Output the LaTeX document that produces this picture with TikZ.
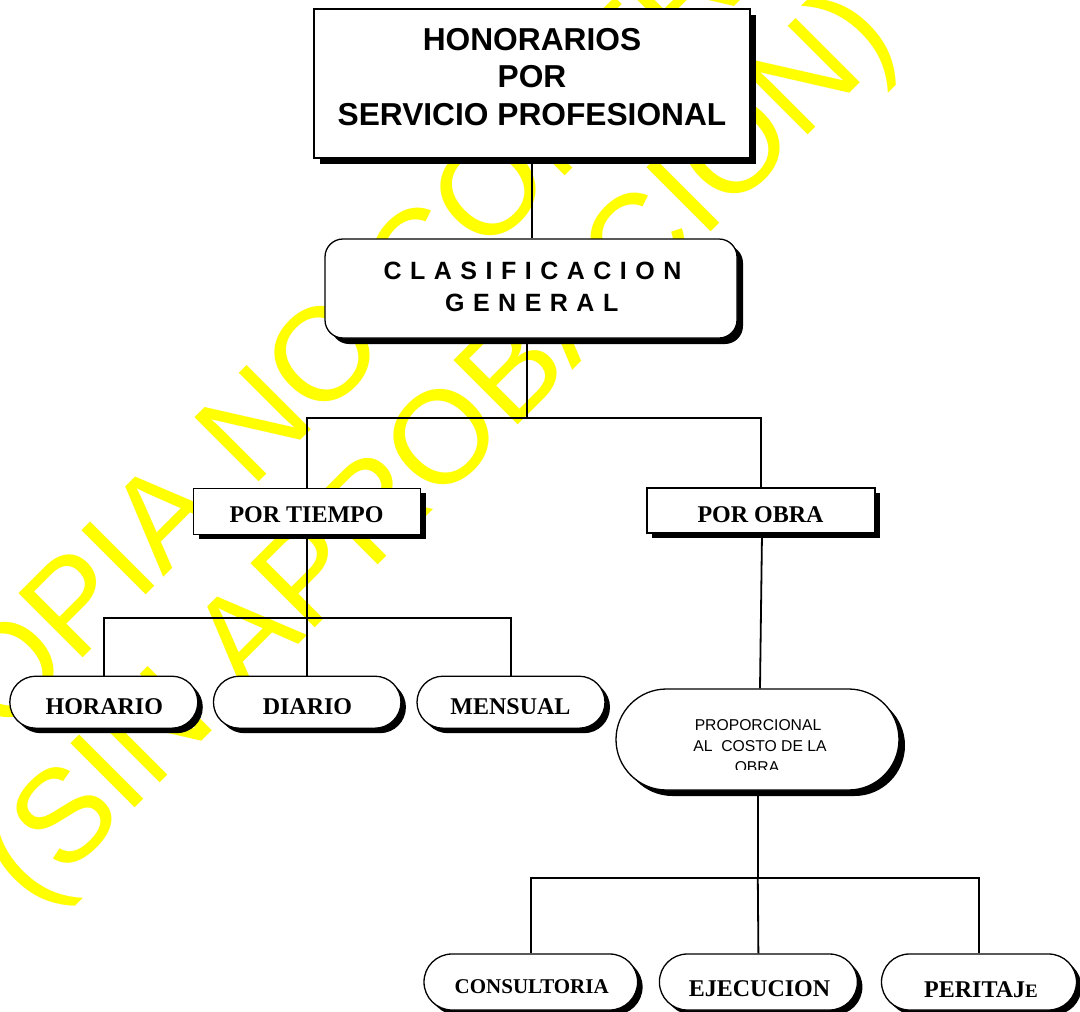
\documentclass[tikz,border=0pt]{standalone}
\usepackage{fontspec}
\setmainfont{Liberation Serif}
\newfontfamily\arialf{Liberation Sans}
\usetikzlibrary{shapes.misc,shadows}
\newcommand\widesp{\spaceskip 8.5pt\relax}
\begin{document}
\begin{tikzpicture}[x=1pt,y=-1pt,
  shd/.style={general shadow={fill=black,shadow xshift=#1,shadow yshift=-#1}},
  sq/.style={draw=black,line width=1.3pt,fill=white,inner sep=0pt},
  pill/.style={sq,rounded rectangle},
  conn/.style={line width=1.8pt},
  txt/.style={anchor=base,inner sep=0pt},
  hbig/.style={txt,font=\arialf\bfseries\fontsize{31.7}{38}\selectfont},
  hspc/.style={txt,font=\arialf\bfseries\fontsize{25}{30}\selectfont\widesp},
  tms/.style={txt,font=\bfseries\fontsize{24}{28}\selectfont},
  tmss/.style={txt,font=\bfseries\fontsize{21}{25}\selectfont},
  prp/.style={txt,font=\arialf\fontsize{15.7}{19}\selectfont},
  wm/.style={anchor=base west,inner sep=0pt,rotate=45,text={rgb,255:red,255;green,255;blue,0},
    font=\arialf\fontsize{132}{140}\selectfont}]
\useasboundingbox (0,0) rectangle (1080,1012);
\begin{scope}
\clip (0,0) rectangle (1080,1012);
\fill[white] (0,0) rectangle (1080,1012);
% watermark
\node[wm] (wm1) at (-65,806) {COPIA NO CONTROLADA};
\node[wm] (wm2) at (33,910) {(SIN APROBACION)};

% boxes
\node[sq,shd=6pt,minimum width=436pt,minimum height=149pt] (top) at (532,83.5) {};
\node[sq,shd=6pt,rounded corners=18pt,minimum width=412pt,minimum height=99pt] (clas) at (531,288.5) {};
\node[sq,shd=5pt,minimum width=227pt,minimum height=46pt] (ptiempo) at (307.2,511.3) {};
\node[sq,shd=5pt,minimum width=228pt,minimum height=45pt] (pobra) at (761,510.5) {};
\node[pill,shd=5pt,minimum width=188pt,minimum height=52pt] (hor) at (103.8,702.2) {};
\node[pill,shd=5pt,minimum width=187.5pt,minimum height=52pt] (dia) at (307.2,702.2) {};
\node[pill,shd=5pt,minimum width=188pt,minimum height=52pt] (men) at (511,702.2) {};
\node[pill,shd=6pt,minimum width=283pt,minimum height=101pt] (prop) at (757.5,739.5) {};
\node[pill,shd=5pt,minimum width=213.6pt,minimum height=56pt] (cons) at (530.8,982) {};
\node[pill,shd=5pt,minimum width=198pt,minimum height=56pt] (ejec) at (758.4,982) {};
\node[pill,shd=5pt,minimum width=195pt,minimum height=56pt] (peri) at (979,982) {};

% connectors
\coordinate (j1) at (527,418);
\coordinate (j2) at (307.2,618.3);
\coordinate (j3) at (757.8,878.3);
\draw[conn] (top.south -| 532,0) -- (clas.north -| 532,0);
\draw[conn] (clas.south -| j1) -- (j1);
\draw[conn] (ptiempo.north) -- (ptiempo.north |- j1) -- (pobra.north |- j1) -- (pobra.north);
\draw[conn] (ptiempo.south) -- (j2);
\draw[conn] (hor.north) -- (hor.north |- j2) -- (men.north |- j2) -- (men.north);
\draw[conn] (j2) -- (dia.north);
\draw[conn] ([xshift=1pt]pobra.south) -- ([xshift=2.5pt]prop.north);
\draw[conn] (prop.south -| j3) -- (j3);
\draw[conn] (cons.north) -- (cons.north |- j3) -- (peri.north |- j3) -- (peri.north);
\draw[conn] (j3) -- (ejec.north);

% texts
\node[hbig] (t1) at (532,50) {HONORARIOS};
\node[hbig] (t2) at (532,87.3) {POR};
\node[hbig] (t3) at (532,125) {SERVICIO PROFESIONAL};
\node[hspc] (t4) at (532.5,279.3) {C L A S I F I C A C I O N};
\node[hspc] (t5) at (531.7,311.7) {G E N E R A L};
\node[tms] (t6) at (306.5,522.7) {POR TIEMPO};
\node[tms] (t7) at (760.5,522.7) {POR OBRA};
\begin{scope}
\clip (0,600) rectangle (700,713.5);
\node[tms] (t8) at (104.3,714) {HORARIO};
\node[tms] (t9) at (307.5,714) {DIARIO};
\node[tms] (t10) at (510.5,714) {MENSUAL};
\end{scope}
\begin{scope}
\clip (600,690) rectangle (900,769.5);
\node[prp] (t11) at (758,730) {PROPORCIONAL};
\node[prp] (t12) at (760,751) {AL\ \ COSTO DE LA};
\node[prp] (t13) at (757,772) {OBRA};
\end{scope}
\node[tmss] (t14) at (531.7,993) {CONSULTORIA};
\node[tms] (t15) at (759.5,996.5) {EJECUCION};
\node[tms] (t16) at (981,997.5) {PERITAJ{\fontsize{19}{22}\selectfont E}};
\end{scope}
\end{tikzpicture}
\end{document}
